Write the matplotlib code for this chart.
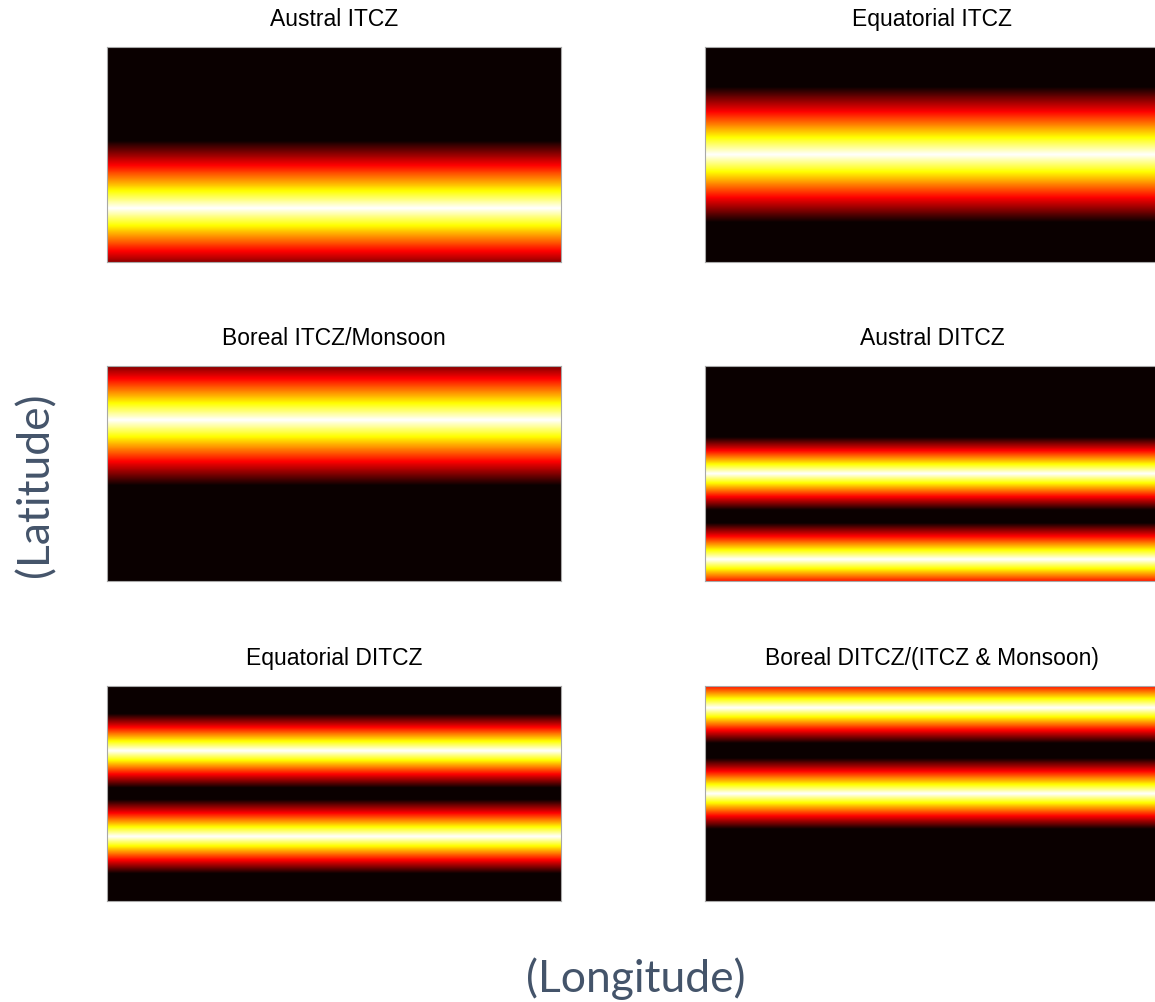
import numpy as np
import matplotlib
matplotlib.use("Agg")
import matplotlib.pyplot as plt

# panel titles, row by row
titles = ["Austral ITCZ", "Equatorial ITCZ",
          "Boreal ITCZ/Monsoon", "Austral DITCZ",
          "Equatorial DITCZ", "Boreal DITCZ/(ITCZ & Monsoon)"]
# rain-band centres (deg latitude) and half-widths for each panel
band_centers = [[-10], [0], [10], [0, -16], [8, -8], [0, 16]]
band_halfwidth = [12.6, 12.6, 12.2, 6.8, 6.9, 6.6]

lat_range = (-20, 20)
lon_range = (0, 360)

lat = np.linspace(lat_range[0], lat_range[1], 400)
lon = np.linspace(lon_range[0], lon_range[1], 10)

fig = plt.figure(figsize=(11.55, 10.02), dpi=100)

W, H = 1155, 1002
col_left = [107, 705]
row_top = [47, 366, 686]
ax_w, ax_h = 454, 215

for i, title in enumerate(titles):
    r, c = divmod(i, 2)
    ax = fig.add_axes([col_left[c] / W, (H - row_top[r] - ax_h) / H, ax_w / W, ax_h / H])
    # triangular latitude profile per band, take max of bands
    prof = np.zeros_like(lat)
    for c0 in band_centers[i]:
        prof = np.maximum(prof, 1 - np.abs(lat - c0) / band_halfwidth[i])
    prof = np.clip(prof, 0, 1)
    field = np.tile(prof[:, None], (1, len(lon)))
    ax.imshow(field, extent=[lon_range[0], lon_range[1], lat_range[0], lat_range[1]],
              origin="lower", aspect="auto", cmap="hot", vmin=0, vmax=1,
              interpolation="bilinear")
    ax.set_xticks([]); ax.set_yticks([])
    for s in ax.spines.values():
        s.set_color("#a8a8a8"); s.set_linewidth(0.8)
    ax.set_title(title, fontsize=16.5, family=["Liberation Sans", "DejaVu Sans"], pad=15)

axis_col = "#44546a"
fig.text(636 / W, 1 - 979 / H, "(Longitude)", ha="center", va="center",
         fontsize=32, color=axis_col, family=["Lato", "DejaVu Sans"])
fig.text(36 / W, 1 - 485 / H, "(Latitude)", ha="center", va="center", rotation=90,
         fontsize=32, color=axis_col, family=["Lato", "DejaVu Sans"])

fig.savefig("out.png", dpi=100, facecolor="white")
